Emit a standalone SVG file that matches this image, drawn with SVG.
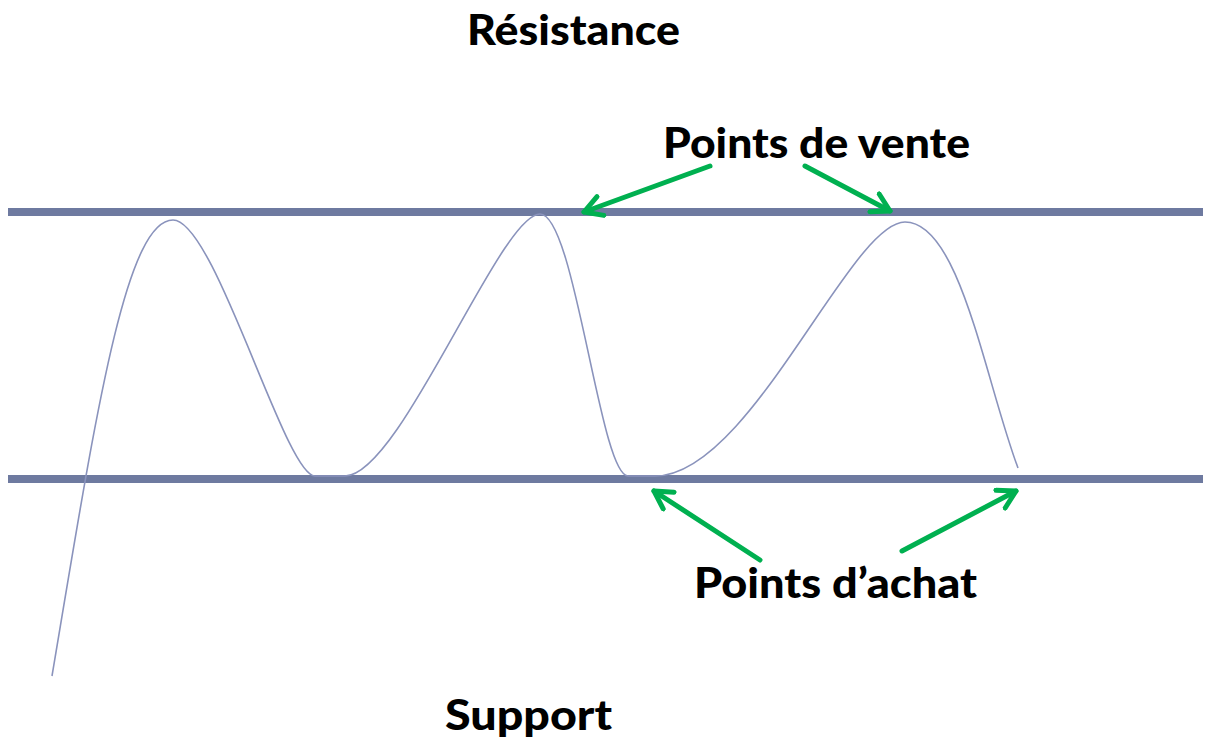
<svg xmlns="http://www.w3.org/2000/svg" width="1230" height="742" viewBox="0 0 1230 742">
<style>
.lbl{font-family:Lato,"Open Sans","Liberation Sans",sans-serif;font-weight:900;font-size:42px;fill:#000}
.lvl{stroke:#6E7AA0;stroke-width:8;fill:none}
.price{stroke:#8A93BC;stroke-width:1.6;fill:none}
.arr{stroke:#00B050;stroke-width:5;fill:none;stroke-linecap:round;marker-end:url(#ah)}
</style>
<defs>
<marker id="ah" viewBox="0 0 10 10" refX="8" refY="5" markerWidth="5" markerHeight="5" orient="auto" markerUnits="strokeWidth">
<path d="M1,1 L8,5 L1,9" fill="none" stroke="#00B050" stroke-width="2" stroke-linecap="round" stroke-linejoin="round"/>
</marker>
</defs>
<rect width="1230" height="742" fill="#fff"/>
<g id="resistance-line"><line class="lvl" x1="8" y1="212" x2="1203" y2="212"/></g>
<g id="support-line"><line class="lvl" x1="8" y1="479" x2="1203" y2="479"/></g>
<g id="price-curve">
<path class="price" d="M52,676 C95,420 125,220 173,220 C215,220 285,476 315,476 L345,476 C400,476 500,214 540,214 C575,214 600,476 628,476 L655,476 C750,476 850,222 905,222 C960,222 985,380 1018,468"/>
</g>
<g id="label-resistance"><text class="lbl" x="467" y="45" textLength="213" lengthAdjust="spacingAndGlyphs">Résistance</text></g>
<g id="label-vente"><text class="lbl" x="663" y="158" textLength="307" lengthAdjust="spacingAndGlyphs">Points de vente</text></g>
<g id="label-achat"><text class="lbl" x="694" y="598" textLength="283" lengthAdjust="spacingAndGlyphs">Points d’achat</text></g>
<g id="label-support"><text class="lbl" x="445" y="730" textLength="167" lengthAdjust="spacingAndGlyphs">Support</text></g>
<g id="connectors">
<line class="arr" x1="710" y1="166" x2="584" y2="212"/>
<line class="arr" x1="805" y1="166" x2="890" y2="211"/>
<line class="arr" x1="760" y1="560" x2="654" y2="491"/>
<line class="arr" x1="902" y1="551" x2="1016" y2="491"/>
</g>
</svg>
